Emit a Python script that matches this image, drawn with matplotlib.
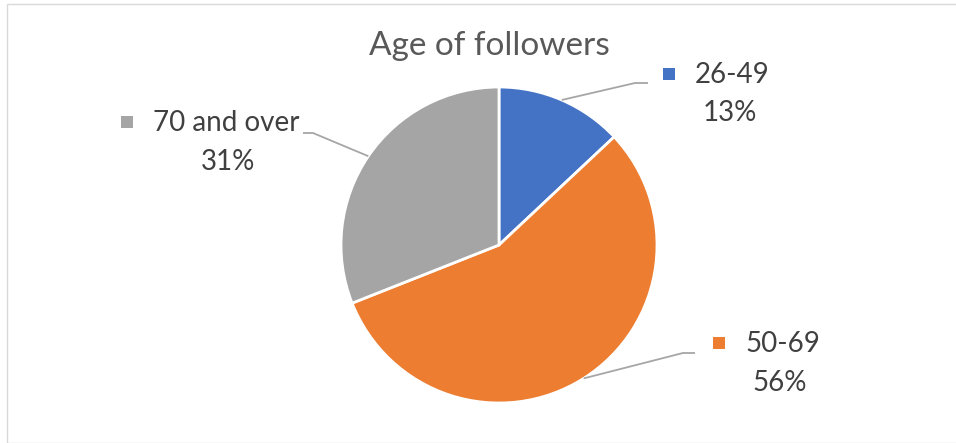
import matplotlib.pyplot as plt
from matplotlib.patches import Rectangle
import numpy as np

# data
labels = ["26-49", "50-69", "70 and over"]
shares = [13, 56, 31]
colors = ["#4472C4", "#ED7D31", "#A5A5A5"]
chart_title = "Age of followers"

# layout (pixel coords, y down): name left edge, name y, pct center x, pct y
label_layout = [(695, 75, 730, 113), (745, 344, 780, 383), (153, 123, 228, 162)]
elbow_layout = [(635, 83, 648), (683, 353, 695), (313, 133, 303)]

plt.rcParams['font.family'] = ['Lato', 'DejaVu Sans']
text_col = "#404040"

fig = plt.figure(figsize=(9.56, 4.43), dpi=100)
ax = fig.add_axes([0, 0, 1, 1])

cx, cy, r = 499, 245, 158
wedges, _ = ax.pie(shares, colors=colors, startangle=-90, counterclock=True,
                   center=(cx, cy), radius=r, frame=True,
                   wedgeprops=dict(edgecolor="white", linewidth=2))
ax.set_xlim(0, 956)
ax.set_ylim(443, 0)
ax.set_aspect("equal")
ax.axis("off")

total = sum(shares)
cum = 0
for i, (lab, val) in enumerate(zip(labels, shares)):
    mid = np.deg2rad(-90 + 360 * (cum + val / 2) / total)
    cum += val
    sx, sy = cx + r * np.cos(mid), cy + r * np.sin(mid)
    ex, ey, hx = elbow_layout[i]
    ax.plot([sx, ex, hx], [sy, ey, ey], color="#A6A6A6", lw=1.3,
            solid_capstyle="butt")
    nx, ny, px, py = label_layout[i]
    ax.scatter([nx - 26], [ny - 1], marker="s", s=70, color=colors[i],
               linewidths=0)
    ax.text(nx, ny, lab, fontsize=20, color=text_col, ha="left", va="center")
    ax.text(px, py, f"{round(100 * val / total)}%", fontsize=20,
            color=text_col, ha="center", va="center")

ax.text(489, 46, chart_title, fontsize=24, color="#595959",
        ha="center", va="center")

fig.patches.append(Rectangle((7 / 956, 0), 1, 1 - 4 / 443,
                             transform=fig.transFigure, fill=False,
                             edgecolor="#D9D9D9", lw=1))

fig.savefig("out.png", dpi=100)
